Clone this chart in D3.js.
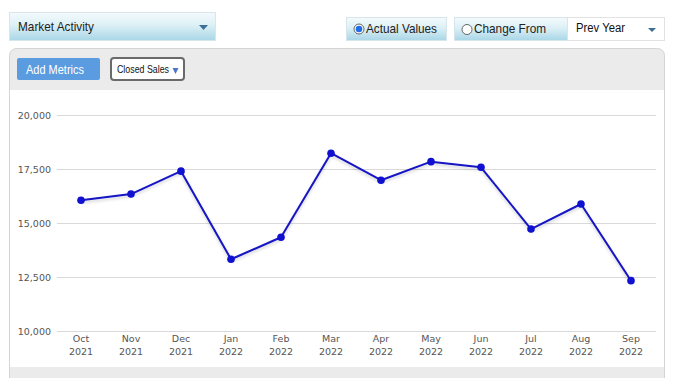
<!DOCTYPE html>
<html>
<head>
<meta charset="utf-8">
<script src="https://cdn.jsdelivr.net/npm/d3@7"></script>
<style>
  body { margin: 0; background: #fff; font-family: "Liberation Sans", Arial, sans-serif; }
  svg { display: block; }
</style>
</head>
<body>
<svg id="chart" width="673" height="378"></svg>
<script>
// data
var months = ["Oct", "Nov", "Dec", "Jan", "Feb", "Mar", "Apr", "May", "Jun", "Jul", "Aug", "Sep"];
var years = ["2021", "2021", "2021", "2022", "2022", "2022", "2022", "2022", "2022", "2022", "2022", "2022"];
var closedSales = [16050, 16340, 17400, 13320, 14340, 18230, 16980, 17840, 17580, 14720, 15880, 12330];
var yTicks = [10000, 12500, 15000, 17500, 20000];

var svg = d3.select("#chart");
var defs = svg.append("defs");

// gradients for the toolbar buttons
var g1 = defs.append("linearGradient").attr("id", "btnGrad").attr("x1", 0).attr("y1", 0).attr("x2", 0).attr("y2", 1);
g1.append("stop").attr("offset", "0%").attr("stop-color", "#f4fafc");
g1.append("stop").attr("offset", "45%").attr("stop-color", "#dcf0f6");
g1.append("stop").attr("offset", "100%").attr("stop-color", "#a9d6e6");

var sh = defs.append("filter").attr("id", "lineShadow").attr("x", "-5%").attr("y", "-20%").attr("width", "110%").attr("height", "150%");
sh.append("feDropShadow").attr("dx", 0).attr("dy", 2).attr("stdDeviation", 1.5).attr("flood-color", "#000").attr("flood-opacity", 0.18);

// squeezes a label to the width
function fit(sel, w) {
  return sel.attr("textLength", w).attr("lengthAdjust", "spacingAndGlyphs");
}

//Top controls
var controls = svg.append("g");
controls.append("rect").attr("x", 9.5).attr("y", 12.5).attr("width", 206).attr("height", 28)
  .attr("fill", "url(#btnGrad)").attr("stroke", "#d6e6ec");
fit(controls.append("text").attr("x", 18).attr("y", 31).attr("font-size", 13.5)
  .attr("fill", "#222").text("Market Activity"), 76);
controls.append("path").attr("d", "M199,25 L208,25 L203.5,30 Z").attr("fill", "#3a6f9a");

controls.append("rect").attr("x", 346.5).attr("y", 17.5).attr("width", 100).attr("height", 23)
  .attr("fill", "url(#btnGrad)").attr("stroke", "#d6e6ec");
controls.append("circle").attr("cx", 359).attr("cy", 29).attr("r", 5).attr("fill", "#fff").attr("stroke", "#666");
controls.append("circle").attr("cx", 359).attr("cy", 29).attr("r", 3.3).attr("fill", "#1e6ee8");
fit(controls.append("text").attr("x", 366).attr("y", 33).attr("font-size", 13)
  .attr("fill", "#222").text("Actual Values"), 71);

controls.append("rect").attr("x", 454.5).attr("y", 17.5).attr("width", 210).attr("height", 23)
  .attr("fill", "#fff").attr("stroke", "#e2e2e2");
controls.append("rect").attr("x", 454.5).attr("y", 17.5).attr("width", 113).attr("height", 23)
  .attr("fill", "url(#btnGrad)").attr("stroke", "#d6e6ec");
controls.append("circle").attr("cx", 467).attr("cy", 29.5).attr("r", 5).attr("fill", "#fff").attr("stroke", "#666");
fit(controls.append("text").attr("x", 474).attr("y", 33).attr("font-size", 13)
  .attr("fill", "#222").text("Change From"), 72);
fit(controls.append("text").attr("x", 576).attr("y", 32).attr("font-size", 12.5)
  .attr("fill", "#111").text("Prev Year"), 49);
controls.append("path").attr("d", "M648,28 L656,28 L652,32 Z").attr("fill", "#3a6f9a");

//Panel
svg.append("rect").attr("x", 9.5).attr("y", 48.5).attr("width", 655).attr("height", 340).attr("rx", 7)
  .attr("fill", "#ebebec").attr("stroke", "#d4d4d4");
svg.append("rect").attr("x", 10).attr("y", 90).attr("width", 654).attr("height", 277).attr("fill", "#fff");
svg.append("line").attr("x1", 9.5).attr("x2", 9.5).attr("y1", 90).attr("y2", 367).attr("stroke", "#d4d4d4");

svg.append("rect").attr("x", 17).attr("y", 58).attr("width", 83).attr("height", 22).attr("rx", 2).attr("fill", "#5b9be0");
fit(svg.append("text").attr("x", 26).attr("y", 73.5).attr("font-size", 13)
  .attr("fill", "#fff").text("Add Metrics"), 58);
svg.append("rect").attr("x", 111).attr("y", 58).attr("width", 73).attr("height", 22).attr("rx", 3)
  .attr("fill", "#fff").attr("stroke", "#6a6a6a").attr("stroke-width", 2);
fit(svg.append("text").attr("x", 117).attr("y", 73).attr("font-size", 10.5)
  .attr("fill", "#111").text("Closed Sales"), 52);
svg.append("path").attr("d", "M172.5,68 L178.5,68 L175.5,74 Z").attr("fill", "#4a78c8");

//Chart scales
var x = d3.scaleBand().domain(d3.range(months.length)).range([56, 656]);
var y = d3.scaleLinear().domain([10000, 20000]).range([331, 115]);

var grid = svg.append("g");
grid.selectAll("line").data(yTicks).enter().append("line")
  .attr("x1", 57).attr("x2", 656)
  .attr("y1", d => y(d) + 0.5).attr("y2", d => y(d) + 0.5)
  .attr("stroke", "#d9d9d9").attr("stroke-width", 1);

var axisY = d3.axisLeft(y).tickValues(yTicks).tickFormat(d3.format(",")).tickSize(0).tickPadding(0);
svg.append("g").attr("class", "axis-Y").attr("transform", "translate(51,0)").call(axisY)
  .call(g => g.select(".domain").remove())
  .selectAll("text").attr("font-family", "\"DejaVu Sans\", sans-serif").attr("font-size", 9.5).attr("fill", "#555");

var axisX = d3.axisBottom(x).tickSize(0).tickPadding(0).tickFormat(() => "");
var gx = svg.append("g").attr("class", "axis-X").attr("transform", "translate(0,331)").call(axisX);
gx.select(".domain").remove();
gx.selectAll(".tick text").each(function(i) {
  var t = d3.select(this).attr("y", 0).attr("dy", null)
    .attr("font-family", "\"DejaVu Sans\", sans-serif").attr("font-size", 9.5).attr("fill", "#555");
  t.append("tspan").attr("x", 0).attr("y", 11).text(months[i]);
  t.append("tspan").attr("x", 0).attr("y", 24).text(years[i]);
});

//Line
var cx = i => x(i) + x.bandwidth() / 2;
var line = d3.line().x((d, i) => cx(i)).y(d => y(d));
svg.append("path").datum(closedSales).attr("d", line)
  .attr("fill", "none").attr("stroke", "#1414c4").attr("stroke-width", 2)
  .attr("stroke-linejoin", "round").attr("filter", "url(#lineShadow)");
svg.selectAll(".dot").data(closedSales).enter().append("circle").attr("class", "dot")
  .attr("cx", (d, i) => cx(i)).attr("cy", d => y(d)).attr("r", 3.8).attr("fill", "#1010d0");
</script>
</body>
</html>
